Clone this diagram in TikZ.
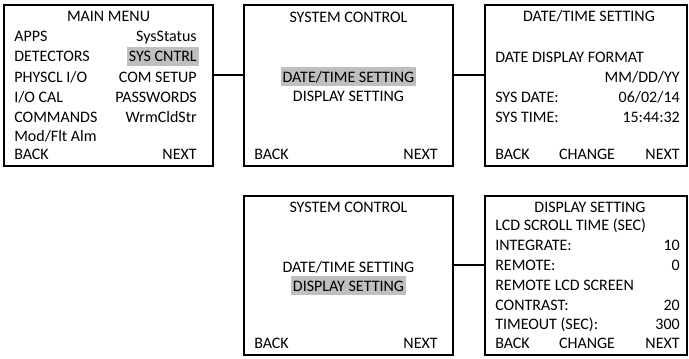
\documentclass[tikz,border=0pt]{standalone}
\usepackage{fontspec}
\setmainfont{Carlito}
\definecolor{hlgray}{RGB}{191,191,191}
\tikzset{
  screen/.style={draw, line width=1.5pt, inner sep=0pt},
  link/.style={line width=1.5pt},
  txt/.style={font=\fontsize{12}{14}\selectfont, inner sep=0pt},
  lt/.style={txt, anchor=base west},
  rt/.style={txt, anchor=base east},
  ct/.style={txt, anchor=base},
  hl/.style={fill=hlgray, inner xsep=1.5pt, inner ysep=0pt, text height=11.25pt, text depth=3pt},
}
\begin{document}
\begin{tikzpicture}[x=0.75pt,y=-0.75pt]
\useasboundingbox (0,0) rectangle (689,358);
% screens
\node[screen, minimum width=209*0.75pt, minimum height=161*0.75pt] (s1) at (108.5,85.5) {};
\node[screen, minimum width=209*0.75pt, minimum height=161*0.75pt] (s2) at (348.5,85.5) {};
\node[screen, minimum width=202*0.75pt, minimum height=161*0.75pt] (s3) at (586,85.5) {};
\node[screen, minimum width=209*0.75pt, minimum height=159*0.75pt] (s4) at (348.5,275.5) {};
\node[screen, minimum width=202*0.75pt, minimum height=159*0.75pt] (s5) at (586,275.5) {};
% connectors
\coordinate (r1) at (0,75);
\coordinate (r2) at (0,265);
\draw[link] (s1.east |- r1) -- (s2.west |- r1);
\draw[link] (s2.east |- r1) -- (s3.west |- r1);
\draw[link] (s4.east |- r2) -- (s5.west |- r2);
% screen 1
\node[ct] (a0) at (108.5,21) {MAIN MENU};
\node[lt] (a1) at (14,41.5) {APPS};
\node[lt] (a2) at (14,61.5) {DETECTORS};
\node[lt] (a3) at (14,82) {PHYSCL I/O};
\node[lt] (a4) at (14,102) {I/O CAL};
\node[lt] (a5) at (14,122) {COMMANDS};
\node[lt] (a6) at (14,141) {Mod/Flt Alm};
\node[lt] (a7) at (14,159.5) {BACK};
\node[rt] (b1) at (197,41.5) {SysStatus};
\node[rt,hl] (b2) at (199,61.5) {SYS CNTRL};
\node[rt] (b3) at (197,82) {COM SETUP};
\node[rt] (b4) at (197,102) {PASSWORDS};
\node[rt] (b5) at (197,122) {WrmCldStr};
\node[rt] (b7) at (197,159.5) {NEXT};
% screen 2
\node[ct] (c0) at (348.5,22) {SYSTEM CONTROL};
\node[ct,hl] (c1) at (348.5,82) {DATE/TIME SETTING};
\node[ct] (c2) at (348.5,101) {DISPLAY SETTING};
\node[lt] (c3) at (254,159.5) {BACK};
\node[rt] (c4) at (438,159.5) {NEXT};
% screen 3
\node[ct] (d0) at (589,21) {DATE/TIME SETTING};
\node[lt] (d1) at (495,62) {DATE DISPLAY FORMAT};
\node[rt] (d2) at (680,82) {MM/DD/YY};
\node[lt] (d3) at (495,102) {SYS DATE:};
\node[rt] (d4) at (680,102) {06/02/14};
\node[lt] (d5) at (495,122) {SYS TIME:};
\node[rt] (d6) at (680,122) {15:44:32};
\node[lt] (d7) at (495,159.5) {BACK};
\node[ct] (d8) at (587,159.5) {CHANGE};
\node[rt] (d9) at (680,159.5) {NEXT};
% screen 4
\node[ct] (e0) at (348.5,212) {SYSTEM CONTROL};
\node[ct] (e1) at (348.5,272) {DATE/TIME SETTING};
\node[ct,hl] (e2) at (348.5,291) {DISPLAY SETTING};
\node[lt] (e3) at (254,348) {BACK};
\node[rt] (e4) at (438,348) {NEXT};
% screen 5
\node[ct] (f0) at (590,212) {DISPLAY SETTING};
\node[lt] (f1) at (495,230) {LCD SCROLL TIME (SEC)};
\node[lt] (f2) at (495,250) {INTEGRATE:};
\node[rt] (f3) at (680,250) {10};
\node[lt] (f4) at (495,270) {REMOTE:};
\node[rt] (f5) at (680,270) {0};
\node[lt] (f6) at (495,290) {REMOTE LCD SCREEN};
\node[lt] (f7) at (495,310) {CONTRAST:};
\node[rt] (f8) at (680,310) {20};
\node[lt] (f9) at (495,329) {TIMEOUT (SEC):};
\node[rt] (f10) at (680,329) {300};
\node[lt] (f11) at (495,348) {BACK};
\node[ct] (f12) at (587,348) {CHANGE};
\node[rt] (f13) at (680,348) {NEXT};
\end{tikzpicture}
\end{document}
